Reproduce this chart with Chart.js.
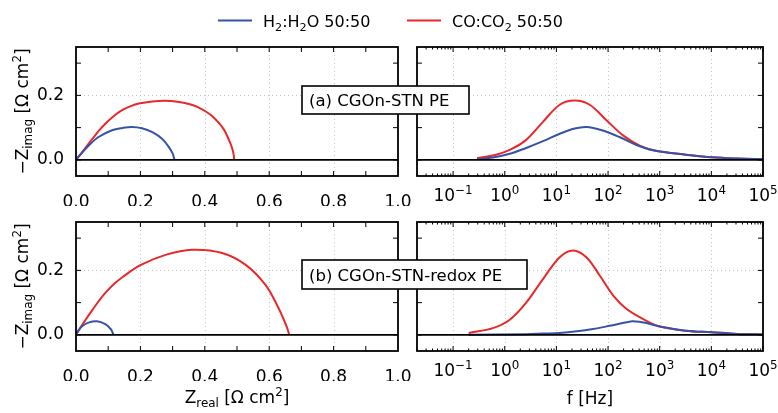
<!DOCTYPE html>
<html>
<head>
<meta charset="utf-8">
<script src="https://cdn.jsdelivr.net/npm/chart.js@4.4.0/dist/chart.umd.min.js"></script>
<style>
body { margin: 0; background: #fff; }
#wrap { position: relative; width: 778px; height: 413px; }
#wrap canvas { position: absolute; left: 0; top: 0; }
</style>
</head>
<body>
<div id="wrap">
<canvas id="nyqA" width="778" height="413"></canvas>
<canvas id="bodeA" width="778" height="413"></canvas>
<canvas id="nyqB" width="778" height="413"></canvas>
<canvas id="bodeB" width="778" height="413"></canvas>
</div>
<script>
// series names (markup: _{} subscript, ^{} superscript)
var seriesNames = ["H_{2}:H_{2}O 50:50", "CO:CO_{2} 50:50"];
var panelLabels = ["(a) CGOn-STN PE", "(b) CGOn-STN-redox PE"];

// tick labels
var reTicks = [0.0, 0.2, 0.4, 0.6, 0.8, 1.0];
var reTickMarks = [0.1, 0.2, 0.3, 0.4, 0.5, 0.6, 0.7, 0.8, 0.9];
var imTicks = [0.0, 0.2];
var imTickMarks = [0.0, 0.1, 0.2, 0.3];
var fTicks = [0.1, 1, 10, 100, 1000, 10000, 100000];

// (a) CGOn-STN PE, Nyquist: Zreal / -Zimag
var a_h2_re = [0, 0.015, 0.039, 0.070, 0.112, 0.145, 0.174, 0.205, 0.237, 0.268, 0.289, 0.300, 0.304, 0.306];
var a_h2_im = [0, 0.018, 0.044, 0.071, 0.092, 0.099, 0.102, 0.098, 0.086, 0.065, 0.039, 0.020, 0.007, 0];
var a_co_re = [0, 0.012, 0.030, 0.050, 0.070, 0.091, 0.115, 0.143, 0.170, 0.195, 0.237, 0.278, 0.315, 0.351, 0.380, 0.403, 0.425, 0.445, 0.460, 0.471, 0.480, 0.486, 0.490, 0.491];
var a_co_im = [0, 0.015, 0.038, 0.064, 0.089, 0.112, 0.134, 0.154, 0.1665, 0.1745, 0.181, 0.183, 0.180, 0.173, 0.163, 0.150, 0.134, 0.113, 0.093, 0.071, 0.050, 0.032, 0.014, 0];

// (a) -Zimag vs f [Hz]
var a_h2_f  = [0.29, 0.59, 1.25, 2.6, 5.5, 11.6, 22.6, 38, 76, 166, 355, 740, 3200, 10000, 32000, 100000];
var a_h2_mz = [0.002, 0.0074, 0.019, 0.037, 0.058, 0.081, 0.097, 0.102, 0.092, 0.071, 0.046, 0.030, 0.016, 0.008, 0.004, 0.002];
var a_co_f  = [0.29, 0.59, 1.25, 2.6, 5.5, 11.6, 22.6, 44, 93, 195, 410, 850, 3200, 10000, 32000, 100000];
var a_co_mz = [0.006, 0.0135, 0.031, 0.062, 0.118, 0.171, 0.184, 0.171, 0.123, 0.076, 0.044, 0.028, 0.016, 0.008, 0.004, 0.002];

// (b) CGOn-STN-redox PE, Nyquist
var b_h2_re = [0, 0.008, 0.019, 0.039, 0.065, 0.091, 0.107, 0.113, 0.116];
var b_h2_im = [0, 0.014, 0.027, 0.038, 0.042, 0.033, 0.019, 0.009, 0];
var b_co_re = [0, 0.012, 0.030, 0.050, 0.071, 0.091, 0.118, 0.143, 0.200, 0.278, 0.361, 0.454, 0.527, 0.589, 0.630, 0.650, 0.658, 0.662];
var b_co_im = [0, 0.020, 0.047, 0.076, 0.105, 0.130, 0.158, 0.178, 0.216, 0.248, 0.264, 0.254, 0.217, 0.154, 0.081, 0.036, 0.015, 0];

// (b) -Zimag vs f [Hz]
var b_h2_f  = [0.2, 2.6, 5.5, 11.6, 25, 51, 107, 229, 300, 550, 1000, 3200, 10000, 32000, 100000];
var b_h2_mz = [0.0005, 0.002, 0.004, 0.006, 0.011, 0.018, 0.028, 0.039, 0.042, 0.037, 0.026, 0.013, 0.008, 0.003, 0.001];
var b_co_f  = [0.2, 0.59, 1.25, 2.6, 5.5, 11.6, 21, 38, 69, 126, 229, 480, 1000, 3200, 10000, 32000, 100000];
var b_co_mz = [0.006, 0.021, 0.047, 0.100, 0.173, 0.241, 0.262, 0.241, 0.184, 0.122, 0.080, 0.049, 0.026, 0.013, 0.008, 0.003, 0.001];

var BLUE = '#3653a6';
var RED = '#e8282a';
var FONT = "'DejaVu Sans', sans-serif";
Chart.defaults.font.family = FONT;
Chart.defaults.color = '#000';

function pairs(xs, ys) {
	return xs.map(function(x, i) { return { x: x, y: ys[i] }; });
}

function parseRich(str) {
	var parts = [], re = /([_^])\{([^}]*)\}/g, last = 0, m;
	while ((m = re.exec(str))) {
		if (m.index > last) parts.push([str.slice(last, m.index), 0]);
		parts.push([m[2], m[1] === '_' ? 1 : 2]);
		last = re.lastIndex;
	}
	if (last < str.length) parts.push([str.slice(last), 0]);
	return parts;
}

function drawRich(ctx, str, x, y, size, align) {
	var parts = parseRich(str);
	var fontOf = function(k) { return (k ? size * 0.7 : size) + 'px ' + FONT; };
	var w = 0;
	parts.forEach(function(p) { ctx.font = fontOf(p[1]); w += ctx.measureText(p[0]).width; });
	var cx = align === 'center' ? x - w / 2 : x;
	ctx.textAlign = 'left';
	ctx.textBaseline = 'alphabetic';
	parts.forEach(function(p) {
		ctx.font = fontOf(p[1]);
		var dy = p[1] === 1 ? size * 0.22 : (p[1] === 2 ? -size * 0.42 : 0);
		ctx.fillText(p[0], cx, y + dy);
		cx += ctx.measureText(p[0]).width;
	});
	return w;
}

var decor = {
	id: 'decor',
	beforeDatasetsDraw: function(chart, args, o) {
		var ctx = chart.ctx, a = chart.chartArea, xs = chart.scales.x, ys = chart.scales.y;
		ctx.save();
		ctx.strokeStyle = '#c4c4c4';
		ctx.lineWidth = 1;
		ctx.setLineDash([1, 3]);
		o.xGrid.forEach(function(v) {
			var px = Math.round(xs.getPixelForValue(v)) + 0.5;
			ctx.beginPath(); ctx.moveTo(px, a.top); ctx.lineTo(px, a.bottom); ctx.stroke();
		});
		o.yGrid.forEach(function(v) {
			var py = Math.round(ys.getPixelForValue(v)) + 0.5;
			ctx.beginPath(); ctx.moveTo(a.left, py); ctx.lineTo(a.right, py); ctx.stroke();
		});
		ctx.restore();
	},
	afterDatasetsDraw: function(chart, args, o) {
		var ctx = chart.ctx, a = chart.chartArea, xs = chart.scales.x, ys = chart.scales.y;
		ctx.save();
		ctx.strokeStyle = '#000';
		// zero line
		var y0 = ys.getPixelForValue(0);
		ctx.lineWidth = 1.8;
		ctx.beginPath(); ctx.moveTo(a.left, y0); ctx.lineTo(a.right, y0); ctx.stroke();
		// inward ticks
		ctx.lineWidth = 1;
		function xt(v, len) {
			var px = xs.getPixelForValue(v);
			ctx.beginPath();
			ctx.moveTo(px, a.bottom); ctx.lineTo(px, a.bottom - len);
			ctx.moveTo(px, a.top); ctx.lineTo(px, a.top + len);
			ctx.stroke();
		}
		o.xMajor.forEach(function(v) { xt(v, 5); });
		o.xMinor.forEach(function(v) { xt(v, 2.5); });
		imTickMarks.forEach(function(v) {
			var py = ys.getPixelForValue(v);
			ctx.beginPath();
			ctx.moveTo(a.left, py); ctx.lineTo(a.left + 5, py);
			ctx.moveTo(a.right, py); ctx.lineTo(a.right - 5, py);
			ctx.stroke();
		});
		// frame
		ctx.lineWidth = 1.8;
		ctx.strokeRect(a.left, a.top, a.right - a.left, a.bottom - a.top);
		ctx.restore();
	},
	afterDraw: function(chart, args, o) {
		var ctx = chart.ctx, a = chart.chartArea, xs = chart.scales.x;
		ctx.save();
		ctx.fillStyle = '#000';
		if (o.logLabels) {
			fTicks.forEach(function(v) {
				var e = Math.round(Math.log10(v));
				var s = '10^{' + (e < 0 ? '\u2212' + (-e) : e) + '}';
				drawRich(ctx, s, xs.getPixelForValue(v), a.bottom + 25, 17, 'center');
			});
		}
		if (o.xTitle) drawRich(ctx, o.xTitle, (a.left + a.right) / 2, o.xTitleY, 17, 'center');
		if (o.yTitle) {
			ctx.save();
			ctx.translate(28, (a.top + a.bottom) / 2);
			ctx.rotate(-Math.PI / 2);
			drawRich(ctx, o.yTitle, 0, 0, 17, 'center');
			ctx.restore();
		}
		if (o.box) {
			var b = o.box;
			ctx.fillStyle = '#fff';
			ctx.fillRect(b.x, b.y, b.w, b.h);
			ctx.strokeStyle = '#000';
			ctx.lineWidth = 1.6;
			ctx.strokeRect(b.x, b.y, b.w, b.h);
			ctx.fillStyle = '#000';
			drawRich(ctx, b.text, b.x + 7, b.y + b.h / 2 + 6, 16.5, 'left');
		}
		if (o.legend) {
			chart.data.datasets.forEach(function(ds, i) {
				var L = o.legend[i];
				ctx.strokeStyle = ds.borderColor;
				ctx.lineWidth = 2;
				ctx.beginPath(); ctx.moveTo(L.x, L.y); ctx.lineTo(L.x + 34, L.y); ctx.stroke();
				ctx.fillStyle = '#000';
				drawRich(ctx, ds.label, L.x + 45, L.y + 6.5, 16, 'left');
			});
		}
		ctx.restore();
	}
};

var logMinor = [];
for (var k = -2; k < 5; k++) {
	for (var m = 2; m < 10; m++) {
		var mv = m * Math.pow(10, k);
		if (mv >= 0.02 && mv < 100000) logMinor.push(mv);
	}
}

function yScale(showLabels) {
	return {
		type: 'linear', position: 'left', min: -0.05, max: 0.35,
		grid: { display: false }, border: { display: false },
		afterBuildTicks: function(s) { s.ticks = imTicks.map(function(v) { return { value: v }; }); },
		ticks: {
			display: showLabels, padding: 4, font: { size: 17 }, color: '#000',
			callback: function(v) { return Number(v).toFixed(1); }
		},
		afterFit: function(s) { s.width = showLabels ? 50 : 0; }
	};
}

var lineStyle = { borderWidth: 2, tension: 0.35, fill: false };

function makeNyquist(id, h2, co, top, bottom, opts) {
	return new Chart(document.getElementById(id), {
		type: 'line',
		data: {
			datasets: [
				{ label: seriesNames[0], data: h2, borderColor: BLUE },
				{ label: seriesNames[1], data: co, borderColor: RED }
			]
		},
		options: {
			responsive: false, animation: false, events: [],
			layout: { padding: { left: 26, right: 380, top: top, bottom: 413 - bottom - 30 } },
			elements: { point: { radius: 0 }, line: lineStyle },
			scales: {
				x: {
					type: 'linear', min: 0, max: 1,
					grid: { display: false }, border: { display: false },
					afterBuildTicks: function(s) { s.ticks = reTicks.map(function(v) { return { value: v }; }); },
					ticks: {
						padding: 8, maxRotation: 0, autoSkip: false, font: { size: 17 }, color: '#000',
						callback: function(v) { return Number(v).toFixed(1); }
					},
					afterFit: function(s) { s.height = 30; }
				},
				y: yScale(true)
			},
			plugins: {
				legend: { display: false }, tooltip: { enabled: false },
				decor: Object.assign({
					xGrid: [0.2, 0.4, 0.6, 0.8], yGrid: [0.2],
					xMajor: reTickMarks, xMinor: [],
					yTitle: '\u2212Z_{imag} [\u03A9 cm^{2}]'
				}, opts)
			}
		},
		plugins: [decor]
	});
}

function makeBode(id, h2, co, top, bottom, opts) {
	return new Chart(document.getElementById(id), {
		type: 'line',
		data: {
			datasets: [
				{ label: seriesNames[0], data: h2, borderColor: BLUE },
				{ label: seriesNames[1], data: co, borderColor: RED }
			]
		},
		options: {
			responsive: false, animation: false, events: [],
			layout: { padding: { left: 417, right: 15, top: top, bottom: 413 - bottom } },
			elements: { point: { radius: 0 }, line: lineStyle },
			scales: {
				x: {
					type: 'logarithmic', min: 0.02, max: 100000,
					grid: { display: false }, border: { display: false },
					ticks: { display: false },
					afterFit: function(s) { s.height = 0; }
				},
				y: yScale(false)
			},
			plugins: {
				legend: { display: false }, tooltip: { enabled: false },
				decor: Object.assign({
					xGrid: fTicks.slice(0, 6), yGrid: [0.2],
					xMajor: fTicks, xMinor: logMinor,
					logLabels: true
				}, opts)
			}
		},
		plugins: [decor]
	});
}

makeNyquist('nyqA', pairs(a_h2_re, a_h2_im), pairs(a_co_re, a_co_im), 47, 176, {
	legend: [{ x: 218, y: 20.5 }, { x: 407, y: 20.5 }]
});
makeBode('bodeA', pairs(a_h2_f, a_h2_mz), pairs(a_co_f, a_co_mz), 47, 176, {
	box: { x: 302, y: 86, w: 167, h: 28, text: panelLabels[0] }
});
makeNyquist('nyqB', pairs(b_h2_re, b_h2_im), pairs(b_co_re, b_co_im), 222, 351, {
	xTitle: 'Z_{real} [\u03A9 cm^{2}]', xTitleY: 403
});
makeBode('bodeB', pairs(b_h2_f, b_h2_mz), pairs(b_co_f, b_co_mz), 222, 351, {
	box: { x: 302, y: 260, w: 225, h: 29, text: panelLabels[1] },
	xTitle: 'f [Hz]', xTitleY: 404
});
</script>
</body>
</html>
